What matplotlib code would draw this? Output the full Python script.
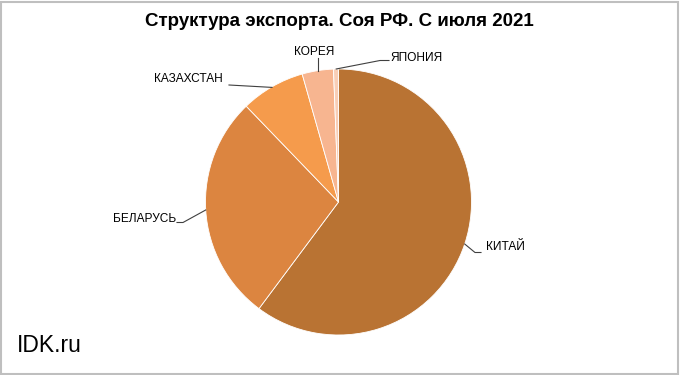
import matplotlib.pyplot as plt
from matplotlib.patches import Rectangle

plt.rcParams['font.family'] = ['Liberation Sans', 'DejaVu Sans']

countries = ['КИТАЙ', 'БЕЛАРУСЬ', 'КАЗАХСТАН', 'КОРЕЯ', 'ЯПОНИЯ']
shares = [60.2, 27.6, 7.8, 3.8, 0.6]
colors = ['#B97333', '#DC8540', '#F59B4C', '#F7B590', '#F9CEB6']

fig = plt.figure(figsize=(6.8, 3.75), dpi=100)

# pie area in pixels: centre (338.5, 202), radius 133
cx, cy, r = 338.5, 202, 133
ax = fig.add_axes([(cx - r) / 680, (375 - cy - r) / 375, 2 * r / 680, 2 * r / 375])
ax.pie(shares, colors=colors, startangle=90, counterclock=False, radius=1,
       wedgeprops=dict(edgecolor='white', linewidth=0.6))
ax.set_xlim(-1, 1)
ax.set_ylim(-1, 1)
ax.set_aspect('auto')
ax.axis('off')


def px(x, y):
    return ((x - cx) / r, (cy - y) / r)


# label text position (pixels), leader points (pixels), alignment
labels = {
    'КИТАЙ': ((486, 247), [(464.7, 244), (475, 252.5), (481, 252.5)], 'left'),
    'БЕЛАРУСЬ': ((176, 219), [(205.7, 210), (183, 222.5), (177, 222.5)], 'right'),
    'КАЗАХСТАН': ((223, 79), [(272, 87.4), (229, 85)], 'right'),
    'КОРЕЯ': ((314, 52), [(317.6, 70.6), (317.6, 58)], 'center'),
    'ЯПОНИЯ': ((390.5, 58), [(336.2, 69), (380, 60.5), (389, 60.5)], 'left'),
}
for name, (tpos, pts, ha) in labels.items():
    xs, ys = zip(*[px(*p) for p in pts])
    ax.plot(xs, ys, color='#404040', lw=0.8, clip_on=False)
    tx, ty = px(*tpos)
    ax.text(tx, ty, name, ha=ha, va='center', fontsize=8.6, clip_on=False)

fig.text(339 / 680, 1 - 22 / 375, 'Структура экспорта. Соя РФ. С июля 2021',
         ha='center', va='center', fontsize=13.5, fontweight='bold')
fig.text(17 / 680, 1 - 345 / 375, 'IDK.ru', ha='left', va='center', fontsize=16.5)

fig.patches.append(Rectangle((0.002, 0.003), 0.995, 0.993, transform=fig.transFigure,
                             fill=False, edgecolor='#BFBFBF', lw=1.5))

fig.savefig('out.png', dpi=100)
